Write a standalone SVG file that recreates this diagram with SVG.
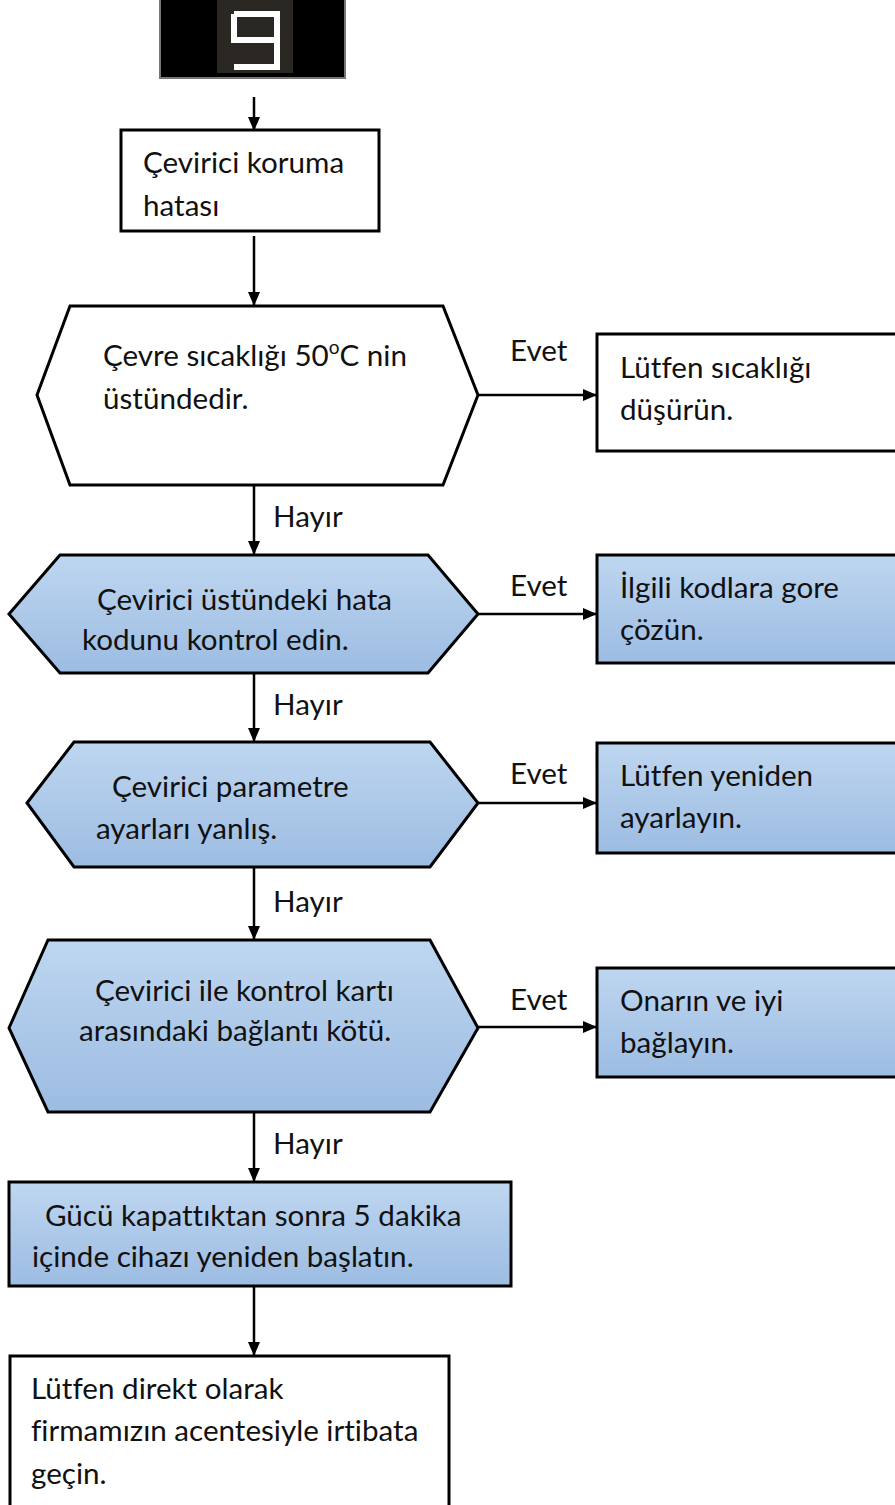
<svg xmlns="http://www.w3.org/2000/svg" width="895" height="1505" viewBox="0 0 895 1505">
<style>
.t{font-family:Lato,"Open Sans","Liberation Sans",sans-serif;font-size:29.6px;fill:#111;font-variant-ligatures:none}
.s{fill:#fff;stroke:#000;stroke-width:3}
.b{fill:url(#g);stroke:#000;stroke-width:3}
.c{stroke:#000;stroke-width:2.5;fill:none;marker-end:url(#a)}
</style>
<defs>
<linearGradient id="g" x1="0" y1="0" x2="0" y2="1">
<stop offset="0" stop-color="#bed6f0"/>
<stop offset="1" stop-color="#9cbce2"/>
</linearGradient>
<marker id="a" markerWidth="14" markerHeight="14" refX="13" refY="7" orient="auto" markerUnits="userSpaceOnUse" viewBox="0 0 14 14">
<path d="M0,1 L14,7 L0,13 z" fill="#000"/>
</marker>
</defs>
<g id="display">
<rect x="160" y="-2" width="185" height="80" fill="#000" stroke="#777" stroke-width="2"/>
<rect x="217" y="0" width="76" height="73" fill="#2b2823"/>
<path d="M234,14 H277 V67 H234 M234,14 V40 H277" fill="none" stroke="#fff" stroke-width="6"/>
</g>
<g id="connectors">
<line class="c" x1="254" y1="97" x2="254" y2="130"/>
<line class="c" x1="254" y1="236" x2="254" y2="305"/>
<line class="c" x1="478" y1="395" x2="596" y2="395"/>
<line class="c" x1="254" y1="486" x2="254" y2="554"/>
<line class="c" x1="478" y1="614" x2="596" y2="614"/>
<line class="c" x1="254" y1="674" x2="254" y2="741"/>
<line class="c" x1="478" y1="803" x2="596" y2="803"/>
<line class="c" x1="254" y1="868" x2="254" y2="939"/>
<line class="c" x1="478" y1="1027" x2="596" y2="1027"/>
<line class="c" x1="254" y1="1113" x2="254" y2="1181"/>
<line class="c" x1="254" y1="1287" x2="254" y2="1355"/>
<text class="t" x="510" y="361">Evet</text>
<text class="t" x="510" y="596">Evet</text>
<text class="t" x="510" y="784">Evet</text>
<text class="t" x="510" y="1010">Evet</text>
<text class="t" x="273" y="527">Hayır</text>
<text class="t" x="273" y="715">Hayır</text>
<text class="t" x="273" y="912">Hayır</text>
<text class="t" x="273" y="1154">Hayır</text>
</g>
<g id="n1">
<rect class="s" x="121" y="130" width="258" height="101"/>
<text class="t" x="143" y="173">Çevirici koruma</text>
<text class="t" x="143" y="216">hatası</text>
</g>
<g id="d1">
<polygon class="s" points="37,395 70,306 443,306 478,395 443,485 70,485"/>
<text class="t" x="103" y="366">Çevre sıcaklığı 50<tspan font-size="19" dy="-12">o</tspan><tspan dy="12">C nin</tspan></text>
<text class="t" x="103" y="409">üstündedir.</text>
</g>
<g id="r1">
<rect class="s" x="597" y="334" width="310" height="117"/>
<text class="t" x="620" y="378">Lütfen sıcaklığı</text>
<text class="t" x="620" y="420">düşürün.</text>
</g>
<g id="d2">
<polygon class="b" points="9,614 60,555 428,555 478,614 428,673 60,673"/>
<text class="t" x="97" y="610">Çevirici üstündeki hata</text>
<text class="t" x="82" y="650">kodunu kontrol edin.</text>
</g>
<g id="r2">
<rect class="b" x="597" y="555" width="310" height="108"/>
<text class="t" x="620" y="598">İlgili kodlara gore</text>
<text class="t" x="620" y="640">çözün.</text>
</g>
<g id="d3">
<polygon class="b" points="27,803 74,742 430,742 478,803 430,867 74,867"/>
<text class="t" x="112" y="797">Çevirici parametre</text>
<text class="t" x="96" y="839">ayarları yanlış.</text>
</g>
<g id="r3">
<rect class="b" x="597" y="743" width="310" height="110"/>
<text class="t" x="620" y="786">Lütfen yeniden</text>
<text class="t" x="620" y="828">ayarlayın.</text>
</g>
<g id="d4">
<polygon class="b" points="9,1028 48,940 430,940 478,1028 430,1112 48,1112"/>
<text class="t" x="95" y="1001">Çevirici ile kontrol kartı</text>
<text class="t" x="79" y="1041">arasındaki bağlantı kötü.</text>
</g>
<g id="r4">
<rect class="b" x="597" y="968" width="310" height="109"/>
<text class="t" x="620" y="1011">Onarın ve iyi</text>
<text class="t" x="620" y="1053">bağlayın.</text>
</g>
<g id="n2">
<rect class="b" x="9" y="1182" width="502" height="104"/>
<text class="t" x="45" y="1226">Gücü kapattıktan sonra 5 dakika</text>
<text class="t" x="32" y="1267">içinde cihazı yeniden başlatın.</text>
</g>
<g id="n3">
<rect class="s" x="10" y="1356" width="439" height="152"/>
<text class="t" x="31" y="1399">Lütfen direkt olarak</text>
<text class="t" x="31" y="1441">firmamızın acentesiyle irtibata</text>
<text class="t" x="31" y="1484">geçin.</text>
</g>
</svg>
